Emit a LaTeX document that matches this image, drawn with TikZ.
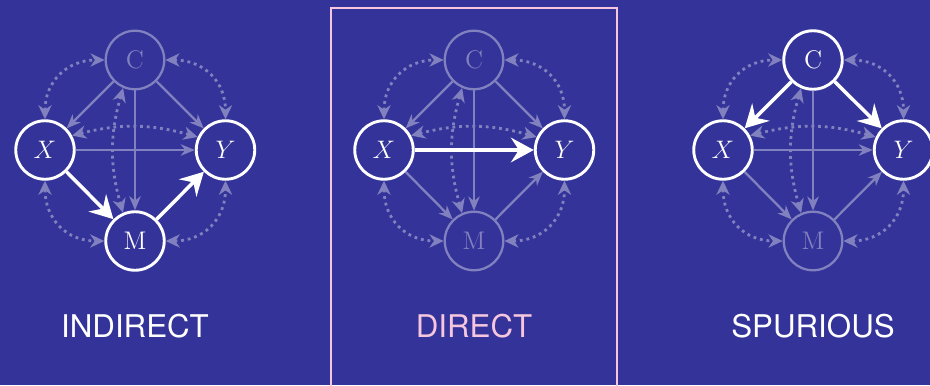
\documentclass[tikz,border=0pt]{standalone}
\usepackage{fontspec}
\newfontfamily\capfont{TeX Gyre Heros}
\usepackage{tikz}
\usetikzlibrary{arrows.meta}
\definecolor{ink}{HTML}{343399}
\definecolor{blush}{HTML}{F5C6DE}
\colorlet{ghost}{white!38!ink}

\begin{document}
\begin{tikzpicture}[
  var/.style={circle,draw=white,line width=1.65pt,minimum size=1.17cm,inner sep=0pt,text=white,font=\fontsize{14.5}{17}\selectfont},
  varlo/.style={var,draw=ghost,line width=1.3pt,text=ghost},
  eff/.style={-{Stealth[length=13pt,width=14pt,inset=4.5pt]},white,line width=2pt},
  efflo/.style={-{Stealth[length=8pt,width=6.5pt,inset=2.5pt]},ghost,line width=1.3pt},
  conf/.style={{Stealth[length=8pt,width=7.5pt,inset=2.5pt]}-{Stealth[length=8pt,width=7.5pt,inset=2.5pt]},ghost,line width=1.6pt,dash pattern=on 1.6pt off 2.2pt},
  lbl/.style={font=\capfont\fontsize{17.8}{20}\selectfont}]
\useasboundingbox (0,0) rectangle (18.6,7.7);
\fill[ink] (0,0) rectangle (18.6,7.7);
% frame round the middle panel, open at the bottom
\draw[blush,line width=0.85pt] (6.62,-0.2) |- (12.34,7.54) -- (12.34,-0.2);
\foreach \i/\px/\cst/\mst/\xm/\my/\xy/\cx/\cy/\lc/\ttl in {
  1/2.7/varlo/var/eff/eff/efflo/efflo/efflo/white/INDIRECT,
  2/9.48/varlo/varlo/efflo/efflo/eff/efflo/efflo/blush/DIRECT,
  3/16.26/var/varlo/efflo/efflo/efflo/eff/eff/white/SPURIOUS}{
  \node[\cst] (c\i) at (\px,6.5) {C};
  \node[var] (x\i) at (\px-1.8,4.7) {$X$};
  \node[var] (y\i) at (\px+1.81,4.7) {$Y$};
  \node[\mst] (m\i) at (\px,2.88) {M};
  % dotted arcs: shared causes
  \draw[conf] (x\i.north) to[out=90,in=180,looseness=1.15] (c\i.west);
  \draw[conf] (c\i.east) to[out=0,in=90,looseness=1.15] (y\i.north);
  \draw[conf] (x\i.south) to[out=-90,in=180,looseness=1.15] (m\i.west);
  \draw[conf] (m\i.east) to[out=0,in=-90,looseness=1.15] (y\i.south);
  \draw[conf] (x\i.28) to[bend left=15] (y\i.155);
  \draw[conf] (c\i.247) to[bend right=16] (m\i.113);
  % direct effects
  \draw[efflo] (c\i) -- (m\i);
  \draw[\cx] (c\i) -- (x\i);
  \draw[\cy] (c\i) -- (y\i);
  \draw[\xy] (x\i) -- (y\i);
  \draw[\xm] (x\i) -- (m\i);
  \draw[\my] (m\i) -- (y\i);
  \node[lbl,text=\lc] (t\i) at (\px,1.17) {\ttl};
}
\end{tikzpicture}
\end{document}
